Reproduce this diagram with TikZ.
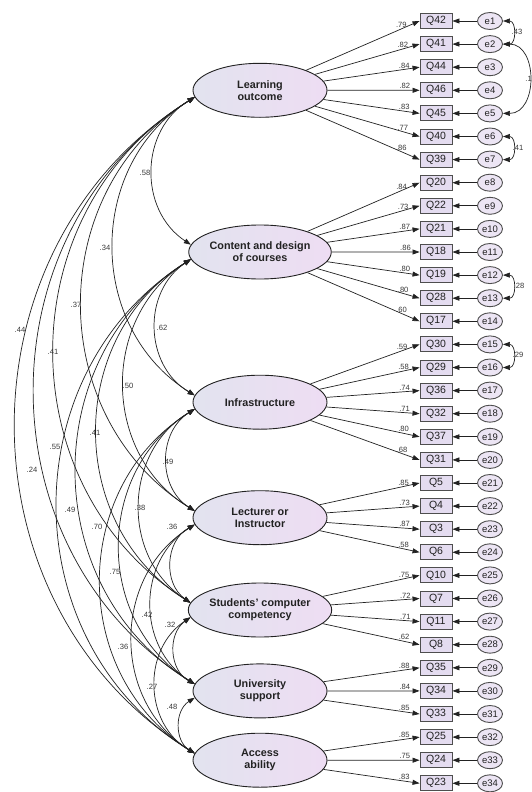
\documentclass[tikz,border=0pt]{standalone}
\usepackage{fontspec}
\setmainfont{Liberation Sans}
\usetikzlibrary{arrows.meta,shapes.geometric}
\definecolor{latL}{HTML}{E2E3EF}
\definecolor{latR}{HTML}{EEDDF3}
\definecolor{boxfill}{HTML}{E4DCF0}
\definecolor{errfill}{HTML}{ECE5F4}
\definecolor{ink}{HTML}{222222}
\begin{document}
\begin{tikzpicture}[x=1pt,y=1pt,
  latent/.style={ellipse,draw=ink,line width=0.9pt,minimum width=134pt,minimum height=54pt,inner sep=0pt,
    left color=latL,right color=latR,align=center,font=\fontsize{10.8}{12}\selectfont\bfseries,text=ink},
  itembox/.style={rectangle,draw=ink!80,line width=0.9pt,fill=boxfill,minimum width=32pt,minimum height=15pt,
    inner sep=0pt,font=\fontsize{10.5}{10.5}\selectfont,text=ink},
  errnode/.style={ellipse,draw=ink!80,line width=0.9pt,fill=errfill,minimum width=25pt,minimum height=17pt,
    inner sep=0pt,font=\fontsize{9.5}{9.5}\selectfont,text=ink},
  arr/.style={line width=0.7pt,draw=ink,-{Triangle[length=7pt,width=5pt]}},
  carr/.style={line width=0.7pt,draw=ink,{Triangle[length=7pt,width=5pt]}-{Triangle[length=7pt,width=5pt]}},
  lab/.style={font=\fontsize{7.6}{7.6}\selectfont,text=ink!90,inner sep=1pt}]
\fill[white] (0,0) rectangle (532,-792);
\useasboundingbox (0,0) rectangle (532,-792);

% latent factors
\node[latent] (lo)  at (260,-90.3)  {Learning\\outcome};
\node[latent] (cdc) at (260,-252)   {Content and design\\of courses};
\node[latent] (inf) at (260,-402.2) {Infrastructure};
\node[latent] (lec) at (260,-517.7) {Lecturer or\\Instructor};
\node[latent] (stu) at (260,-610)   {Students' computer\\competency};
\node[latent] (uni) at (260,-690.9) {University\\support};
\node[latent] (acc) at (260,-760.2) {Access\\ability};

% items, errors, loadings
\foreach \i/\q/\l/\f in {0/Q42/.79/lo,1/Q41/.82/lo,2/Q44/.84/lo,3/Q46/.82/lo,4/Q45/.83/lo,5/Q40/.77/lo,6/Q39/.86/lo,
  7/Q20/.84/cdc,8/Q22/.73/cdc,9/Q21/.87/cdc,10/Q18/.86/cdc,11/Q19/.80/cdc,12/Q28/.80/cdc,13/Q17/.60/cdc,
  14/Q30/.59/inf,15/Q29/.58/inf,16/Q36/.74/inf,17/Q32/.71/inf,18/Q37/.80/inf,19/Q31/.68/inf,
  20/Q5/.85/lec,21/Q4/.73/lec,22/Q3/.87/lec,23/Q6/.58/lec,
  24/Q10/.75/stu,25/Q7/.72/stu,26/Q11/.71/stu,27/Q8/.62/stu,
  28/Q35/.88/uni,29/Q34/.84/uni,30/Q33/.85/uni,
  31/Q25/.85/acc,32/Q24/.75/acc,33/Q23/.83/acc}{
  \pgfmathtruncatemacro\en{\i+1}
  \node[itembox] (b\i) at (436,{-(21+23.1*\i)}) {\q};
  \node[errnode] (e\i) at (490,{-(21+23.1*\i)}) {e\en};
  \draw[arr] (e\i) -- (b\i);
  \draw[arr] (\f) -- (b\i.west) node[lab,pos=0.84,above=0pt]{\l};
}

% error covariances
\draw[carr] (e0.east) to[out=0,in=0,looseness=1.5] (e1.east);
\node[lab] (c1) at (517,-32) {.43};
\draw[carr] (e1.east) to[out=0,in=0,looseness=1.3] (e4.east);
\node[lab,anchor=east,inner sep=0pt] (c2) at (532,-79) {.1};
\draw[carr] (e5.east) to[out=0,in=0,looseness=1.5] (e6.east);
\node[lab] (c3) at (518,-148) {.41};
\draw[carr] (e11.east) to[out=0,in=0,looseness=1.5] (e12.east);
\node[lab] (c4) at (519,-286) {.28};
\draw[carr] (e14.east) to[out=0,in=0,looseness=1.5] (e15.east);
\node[lab] (c5) at (518,-355) {.29};

% factor covariances
\foreach \a/\b in {lo/cdc,lo/inf,lo/lec,lo/stu,lo/uni,lo/acc,
  cdc/inf,cdc/lec,cdc/stu,cdc/uni,cdc/acc,
  inf/lec,inf/stu,inf/uni,inf/acc,
  lec/stu,lec/uni,lec/acc,
  stu/uni,stu/acc,
  uni/acc}{
  \draw[carr] (\a.186) to[bend right=58,looseness=1.1] (\b.174);
}

\foreach \x/\y/\t [count=\k] in {145/173/.58,105/248/.34,76/305/.37,20/330/.44,53/352/.41,162/328/.62,
  128/386/.50,95/433/.41,55/447/.55,32/470/.24,168/462/.49,70/510/.49,140/508/.38,97/527/.70,
  172/527/.36,115/572/.75,147/615/.42,170/625/.32,123/647/.36,152/687/.27,172/707/.48}{
  \node[lab] (r\k) at (\x,-\y) {\t};
}
\end{tikzpicture}
\end{document}
